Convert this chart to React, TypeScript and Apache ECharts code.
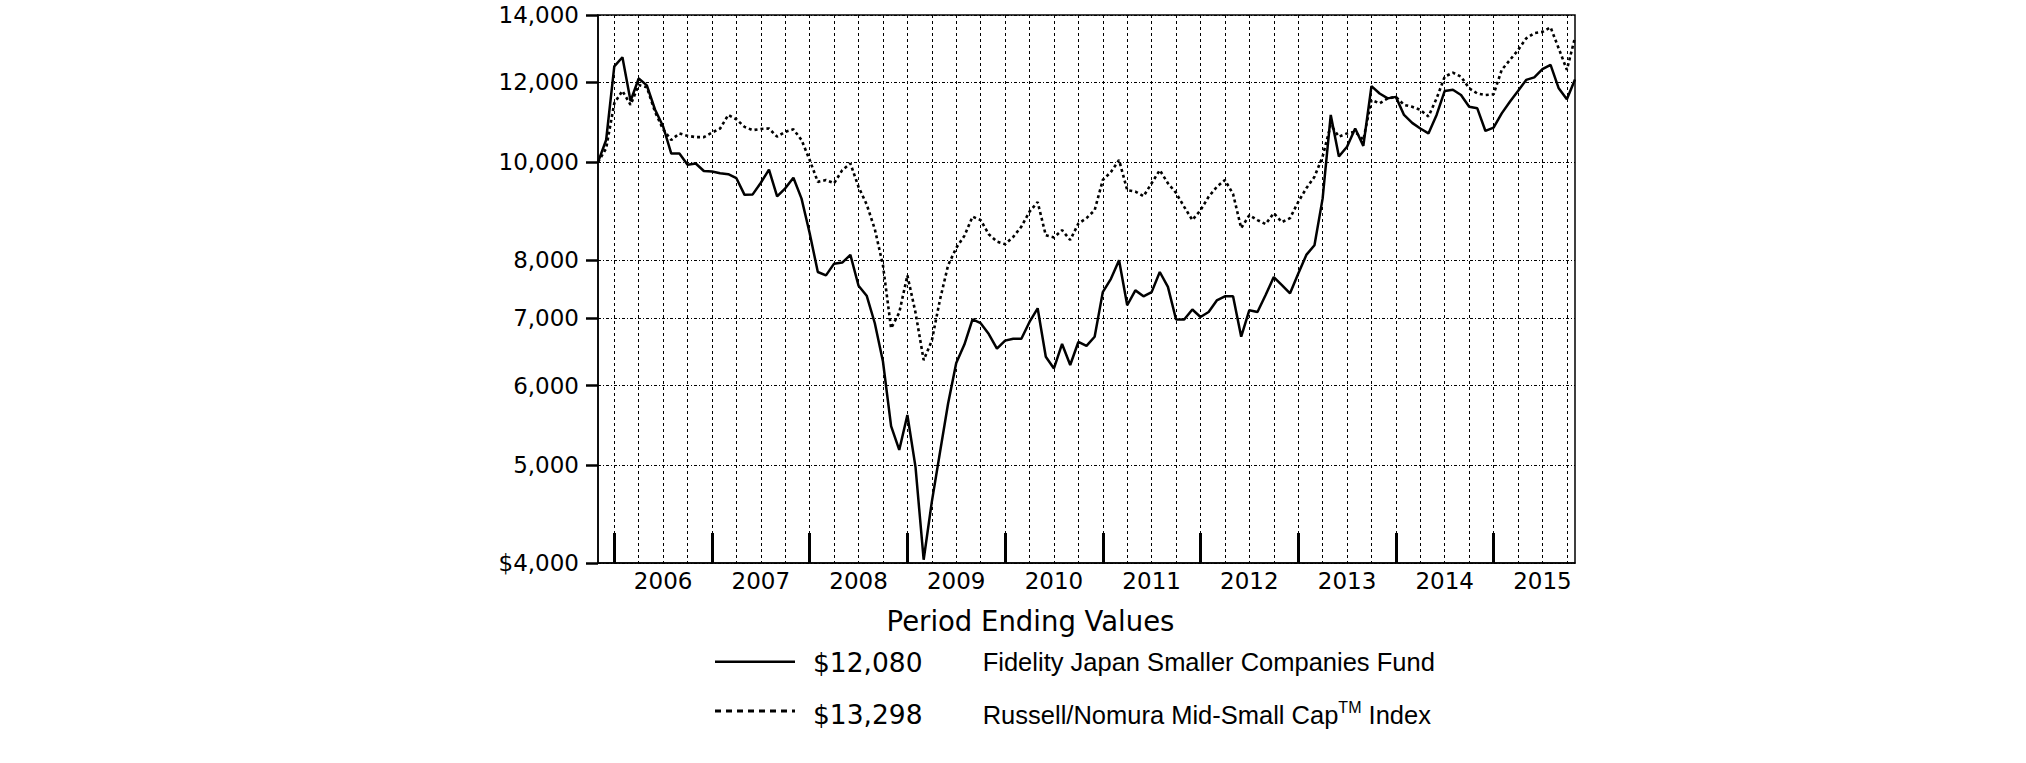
import React, { useEffect, useRef } from "react";
import * as echarts from "echarts";

// Monthly period ends, Oct 2005 .. Oct 2015
const startYear = 2005;
const startMonth = 10;
const monthCount = 121;
const months: string[] = [];
for (let i = 0; i < monthCount; i++) {
  const m0 = startMonth - 1 + i;
  const y = startYear + Math.floor(m0 / 12);
  const m = (m0 % 12) + 1;
  months.push(`${y}-${m < 10 ? "0" + m : m}`);
}

const fundName = "Fidelity Japan Smaller Companies Fund";
const indexName = "Russell/Nomura Mid-Small Cap";
const fundEnding = "$12,080";
const indexEnding = "$13,298";

const fundValues = [
  10000, 10520, 12450, 12710, 11500, 12110, 11920, 11280, 10850, 10200,
  10200, 9940, 9970, 9800, 9790, 9750, 9730, 9640, 9280, 9290,
  9540, 9830, 9250, 9420, 9650, 9200, 8500, 7780, 7720, 7930,
  7950, 8090, 7540, 7370, 6920, 6340, 5470, 5180, 5610, 4980,
  4030, 4600, 5150, 5760, 6320, 6590, 6980, 6920, 6750, 6530,
  6650, 6680, 6680, 6940, 7160, 6410, 6240, 6600, 6290, 6630,
  6570, 6710, 7430, 7660, 7990, 7210, 7460, 7360, 7430, 7780,
  7520, 6980, 6980, 7140, 7020, 7100, 7290, 7360, 7360, 6710,
  7130, 7100, 7380, 7690, 7550, 7410, 7750, 8090, 8270, 9200,
  11140, 10130, 10360, 10800, 10380, 11900, 11700, 11570, 11610, 11140,
  10940, 10800, 10680, 11140, 11770, 11800, 11660, 11350, 11310, 10740,
  10820, 11180, 11480, 11770, 12070, 12140, 12370, 12490, 11840, 11550,
  12080,
];

const indexValues = [
  10000, 10320, 11440, 11770, 11400, 11930, 11870, 11220, 10780, 10520,
  10680, 10620, 10590, 10590, 10700, 10800, 11140, 11030, 10840, 10760,
  10790, 10800, 10600, 10720, 10780, 10520, 10050, 9560, 9600, 9530,
  9820, 9970, 9450, 9080, 8580, 7900, 6840, 7090, 7720, 7090,
  6360, 6650, 7300, 7900, 8220, 8450, 8830, 8760, 8480, 8340,
  8290, 8430, 8630, 8930, 9130, 8460, 8420, 8560, 8370, 8690,
  8800, 8960, 9600, 9780, 10050, 9380, 9350, 9250, 9530, 9820,
  9530, 9320, 9030, 8760, 8960, 9240, 9450, 9600, 9300, 8600,
  8860, 8760, 8680, 8900, 8720, 8800, 9130, 9420, 9670, 10130,
  10890, 10600, 10680, 10720, 10520, 11530, 11440, 11570, 11610, 11400,
  11350, 11270, 11100, 11570, 12160, 12270, 12160, 11840, 11700, 11660,
  11680, 12350, 12630, 12920, 13270, 13430, 13470, 13610, 12970, 12350,
  13298,
];

const yTicks = [4000, 5000, 6000, 7000, 8000, 10000, 12000, 14000];

const monthOf = (v: string) => parseInt(v.slice(5, 7), 10);

export default function App() {
  const ref = useRef<HTMLDivElement>(null);

  useEffect(() => {
    if (!ref.current) return;
    const chart = echarts.init(ref.current, null, { renderer: "svg" });
    const black = "#000";
    const option: any = {
      animation: false,
      backgroundColor: "#fff",
      grid: {
        left: 598,
        right: 451,
        top: 15,
        bottom: 200,
        show: true,
        borderColor: black,
        borderWidth: 1.5,
        containLabel: false,
      },
      xAxis: {
        type: "category",
        data: months,
        boundaryGap: false,
        axisLine: { show: true, lineStyle: { color: black, width: 1.5 } },
        axisTick: {
          show: true,
          inside: true,
          length: 30,
          interval: (idx: number, val: string) => monthOf(val) === 12,
          lineStyle: { color: black, width: 3 },
        },
        axisLabel: {
          interval: (idx: number, val: string) => monthOf(val) === 6,
          formatter: (val: string) => val.slice(0, 4),
          fontFamily: "DejaVu Sans",
          fontSize: 23,
          color: black,
          margin: 6,
        },
        splitLine: {
          show: true,
          interval: (idx: number, val: string) => monthOf(val) % 3 === 0,
          lineStyle: { color: black, width: 1, type: [3, 3] },
        },
      },
      yAxis: {
        type: "log",
        logBase: 10,
        min: 4000,
        max: 14000,
        axisLine: { show: true, lineStyle: { color: black, width: 1.5 } },
        axisTick: {
          show: true,
          length: 12,
          customValues: yTicks,
          lineStyle: { color: black, width: 2.5 },
        },
        axisLabel: {
          customValues: yTicks,
          formatter: (v: number) =>
            (v === 4000 ? "$" : "") + Math.round(v).toLocaleString("en-US"),
          fontFamily: "DejaVu Sans",
          fontSize: 23,
          color: black,
          margin: 19,
        },
        splitLine: {
          show: true,
          lineStyle: { color: black, width: 1, type: [3, 2, 1, 2] },
        },
      },
      series: [
        {
          name: indexName,
          type: "line",
          data: indexValues,
          symbol: "none",
          showSymbol: false,
          lineStyle: { color: black, width: 2.6, type: [3, 3] },
          z: 2,
        },
        {
          name: fundName,
          type: "line",
          data: fundValues,
          symbol: "none",
          showSymbol: false,
          lineStyle: { color: black, width: 2.5 },
          z: 3,
        },
      ],
      graphic: [
        {
          type: "text",
          left: null,
          x: 1030.5,
          y: 620.5,
          style: {
            text: "Period Ending Values",
            fontFamily: "DejaVu Sans",
            fontSize: 27.5,
            fill: black,
            align: "center",
            verticalAlign: "middle",
            textAlign: "center",
            textVerticalAlign: "middle",
          },
        },
        {
          type: "line",
          shape: { x1: 715, y1: 661.7, x2: 795, y2: 661.7 },
          style: { stroke: black, lineWidth: 2.5 },
        },
        {
          type: "line",
          shape: { x1: 715, y1: 711, x2: 795, y2: 711 },
          style: { stroke: black, lineWidth: 3, lineDash: [6, 5] },
        },
        {
          type: "text",
          x: 813,
          y: 662.5,
          style: {
            text: fundEnding,
            fontFamily: "DejaVu Sans",
            fontSize: 26.5,
            fill: black,
            align: "left",
            verticalAlign: "middle",
            textAlign: "left",
            textVerticalAlign: "middle",
          },
        },
        {
          type: "text",
          x: 813,
          y: 714,
          style: {
            text: indexEnding,
            fontFamily: "DejaVu Sans",
            fontSize: 26.5,
            fill: black,
            align: "left",
            verticalAlign: "middle",
            textAlign: "left",
            textVerticalAlign: "middle",
          },
        },
        {
          type: "text",
          x: 982.7,
          y: 662,
          style: {
            text: fundName,
            fontFamily: "Liberation Sans",
            fontSize: 25.5,
            fill: black,
            align: "left",
            verticalAlign: "middle",
            textAlign: "left",
            textVerticalAlign: "middle",
          },
        },
        {
          type: "text",
          x: 982.7,
          y: 714.5,
          style: {
            text: `{a|${indexName}}{t|TM}{a| Index}`,
            fill: black,
            align: "left",
            verticalAlign: "middle",
            textAlign: "left",
            textVerticalAlign: "middle",
            rich: {
              a: {
                fontFamily: "Liberation Sans",
                fontSize: 25.5,
                lineHeight: 30,
                fill: black,
              },
              t: {
                fontFamily: "Liberation Sans",
                fontSize: 16,
                lineHeight: 16,
                verticalAlign: "top",
                fill: black,
              },
            },
          },
        },
      ],
    };
    chart.setOption(option);
    return () => {
      chart.dispose();
    };
  }, []);

  return (
    <div
      ref={ref}
      style={{
        position: "absolute",
        left: 0,
        top: 0,
        width: 2026,
        height: 763,
        background: "#fff",
      }}
    />
  );
}
